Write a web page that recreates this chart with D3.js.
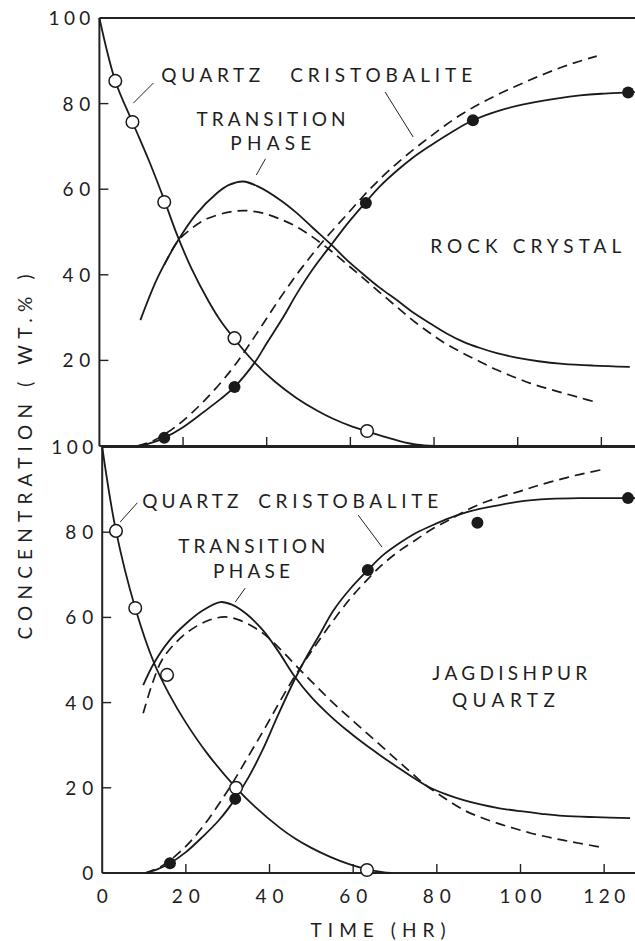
<!DOCTYPE html>
<html><head><meta charset="utf-8">
<script src="https://cdn.jsdelivr.net/npm/d3@7/dist/d3.min.js"></script>
<style>
body{margin:0;background:#fff}
text{font-family:Lato,"DejaVu Sans",sans-serif;font-weight:400;fill:#1e1e1e}
</style>
</head><body>
<svg id="chart" width="635" height="941"></svg>
<script>
// ---------- data ----------
const xTickValues = [0, 20, 40, 60, 80, 100, 120];
const yTickValuesTop = [20, 40, 60, 80, 100];
const yTickValuesBottom = [0, 20, 40, 60, 80, 100];

// Rock crystal (top panel)
const rcQuartzObs = [[3.8,85.3],[7.9,75.7],[15.5,57],[32.3,25.2],[64,3.5]];
const rcCristObs  = [[15.5,1.9],[32.3,13.8],[63.7,56.8],[89.3,76.1],[126.4,82.6]];
const rcQuartzCurve = [[0,100],[3.8,85.3],[7.9,75.7],[12,66.3],[15.5,57.5],[18.5,49.5],[22,41.5],[26,34],[29,29.2],[32.3,25],[36.8,19.8],[42,15],[47,11.3],[52,8.3],[56,6.3],[60,4.7],[64,3.4],[68,2.2],[72,1.1],[76,0.3],[80,0]];
const rcTransCurve = [[9.8,29.4],[14,39.5],[18.6,47.7],[23,54],[28,59],[31,61],[34.4,61.8],[38,60.6],[43.2,57.5],[47,54.6],[51,51],[55.8,46.7],[59,43.6],[63,40.2],[67,37],[71.1,34.1],[75,31.2],[79,28.7],[83,26.3],[86.9,24.4],[91,22.9],[95,21.7],[100,20.6],[105,19.8],[110.8,19.2],[118,18.8],[126.8,18.5]];
const rcTransModel = [[15.5,42.3],[18.6,47.7],[22,50.8],[26,53.2],[31.3,54.7],[35,55],[39.1,54.4],[43,53.1],[47.2,51.2],[51,48.8],[55.1,45.8],[59,42.6],[63,39.3],[67,35.9],[71.1,32.5],[75,29.3],[79,26.4],[82.8,23.9],[86.9,21.7],[91,19.7],[95,17.8],[98.9,16.2],[102.9,14.7],[106.8,13.5],[110.8,12.4],[114.8,11.3],[118.9,10.2]];
const rcCristCurve = [[9.1,0],[12,0.6],[15.5,1.9],[20,4.4],[25,8],[29,11],[32.3,13.8],[37.2,19.6],[40,24],[44,30.2],[47.2,35.6],[51,41.3],[55.8,47.5],[59.5,52.2],[63.7,57],[67,60.6],[71.1,64.3],[75,67.4],[79,70.1],[84,73.2],[89.3,76.1],[96,78.5],[102.9,80.1],[110,81.3],[114.9,81.9],[120,82.3],[126.4,82.6],[128,82.7]];
const rcCristModel = [[9.1,0],[13,1.3],[18.6,4.8],[25,10.5],[31.3,17.5],[35,22.5],[39.1,28.5],[43,34.3],[47.2,40.1],[51,44.9],[54.4,48.9],[59,53.9],[63,58.3],[67,62.3],[71.1,66],[75,69.2],[79,72.2],[82.8,75],[86.9,77.7],[91,80],[95,82],[99,83.8],[102.9,85.5],[106.8,87.1],[110.8,88.6],[114.8,89.9],[118.9,91.1]];

// Jagdishpur quartz (bottom panel)
const jqQuartzObs = [[3.3,80.3],[7.9,62.2],[15.5,46.5],[32,20],[63.3,0.7]];
const jqCristObs  = [[16.2,2.3],[31.8,17.4],[63.5,71.1],[89.7,82.2],[125.7,88]];
const jqQuartzCurve = [[0,100],[3.3,80.3],[7.9,62.2],[12.4,49.3],[16,42],[20,35.3],[25,28.2],[32,20],[36.5,15.6],[42.5,10.6],[46.1,8.1],[50,5.9],[54.5,3.8],[59,2.1],[63.3,0.9],[67,0.2],[69,0]];
const jqTransCurve = [[9.8,44.1],[12.4,49.3],[16,54.5],[20,58.5],[24,61.6],[28.2,63.6],[31,63],[34.5,60.8],[38.4,57],[42,52.2],[46.1,46],[50,41.3],[54.5,36.9],[58.5,33.5],[62.4,30.5],[66.5,27.6],[70.5,24.9],[74.5,22.3],[78.4,20],[82.4,18.4],[86.4,17.1],[90.4,16.1],[94.4,15.3],[100,14.5],[105,13.9],[110.2,13.4],[118,13.1],[126.2,12.9]];
const jqTransModel = [[9.8,37.5],[12,44.5],[14.3,50],[18,54.5],[22,57.6],[26,59.5],[29.4,60.1],[33,59.3],[38.4,56.3],[42.5,52.6],[46.6,48.4],[50.5,44.5],[54.5,40.6],[58.5,37],[62.4,33.6],[66.5,30],[70.5,26.5],[73.6,23.8],[76.7,21.1],[81.5,17.8],[86.4,14.8],[90.4,13.1],[94.4,11.7],[98.4,10.5],[102.3,9.4],[106.3,8.5],[110.2,7.7],[114.5,6.9],[119,6.1]];
const jqCristCurve = [[10.3,0],[13,0.8],[16.2,2.3],[20,4.9],[24,8.5],[28,12.5],[31.8,17.4],[35,22.5],[38.4,29],[42,37],[46.1,45.6],[49,51],[52,56],[55.2,61.5],[59.2,66.6],[63.5,71.1],[67,74.5],[71.2,77.5],[75,79.8],[79.1,81.7],[83,83.3],[87.2,84.7],[92,85.8],[99.2,87.1],[107,87.8],[115,88],[125.7,88],[128,88]];
const jqCristModel = [[10.3,0],[14,1.5],[19.1,5.4],[24,10.8],[30.1,19.5],[35,27.5],[39,34.2],[42.5,40.3],[46,46.1],[49.5,51.3],[54,57.6],[59.2,64.3],[63.5,69],[67.1,72.5],[71,75.6],[75.3,78.4],[79,80.8],[83.2,83],[87,85.1],[91.1,86.9],[95,88.2],[99.2,89.4],[103,90.6],[107.2,91.8],[113,93.3],[119.1,94.6]];

// ---------- layout ----------
const svg = d3.select("#chart");
const W = 635;
const panels = [
  {x0: 99.4, top: 18, bottom: 446, yTicks: yTickValuesTop, xLabels: false,
   quartzObs: rcQuartzObs, cristObs: rcCristObs,
   solid: [rcQuartzCurve, rcTransCurve, rcCristCurve], dashed: [rcTransModel, rcCristModel],
   labels: [
     {text:"QUARTZ", t:14.8, v:85.0, len:99},
     {text:"CRISTOBALITE", t:45.6, v:85.0, len:182},
     {text:"TRANSITION", t:23.2, v:74.8, len:149},
     {text:"PHASE", t:31.3, v:69.2, len:81},
     {text:"ROCK CRYSTAL", t:79.1, v:45.1, len:191}
   ],
   leaders: [[[8.1,80.1],[12.9,84.8]], [[68.3,82.7],[75,72.2]], [[37.5,63.3],[39.7,67.1]]]
  },
  {x0: 102.2, top: 447, bottom: 873, yTicks: yTickValuesBottom, xLabels: true,
   quartzObs: jqQuartzObs, cristObs: jqCristObs,
   solid: [jqQuartzCurve, jqTransCurve, jqCristCurve], dashed: [jqTransModel, jqCristModel],
   labels: [
     {text:"QUARTZ", t:9.6, v:85.7, len:96},
     {text:"CRISTOBALITE", t:37.3, v:85.7, len:180},
     {text:"TRANSITION", t:18.2, v:75.1, len:147},
     {text:"PHASE", t:26.5, v:69.2, len:77},
     {text:"JAGDISHPUR", t:78.9, v:45.3, len:155},
     {text:"QUARTZ", t:83.6, v:39.0, len:103}
   ],
   leaders: [[[4.3,82.4],[8.4,86.9]], [[61.2,84],[66.9,76.5]], [[31.8,63.6],[34.2,66.9]]]
  }
];
const pxPerHr = 4.183;

panels.forEach(p => {
  const x = d3.scaleLinear().domain([0, 120]).range([p.x0, p.x0 + 120 * pxPerHr]);
  const y = d3.scaleLinear().domain([0, 100]).range([p.bottom, p.top]);
  const g = svg.append("g");

  // frame
  g.append("line").attr("x1", x(0)).attr("x2", W + 5).attr("y1", y(100)).attr("y2", y(100))
    .attr("stroke", "#222").attr("stroke-width", 2);
  g.append("line").attr("x1", x(0)).attr("x2", W + 5).attr("y1", y(0)).attr("y2", y(0))
    .attr("stroke", "#222").attr("stroke-width", 2);
  g.append("line").attr("x1", x(0)).attr("x2", x(0)).attr("y1", y(100)).attr("y2", y(0))
    .attr("stroke", "#222").attr("stroke-width", 2);

  // x ticks (inward, from bottom axis)
  g.selectAll(".xt").data(xTickValues.filter(d => d > 0)).enter().append("line")
    .attr("x1", d => x(d)).attr("x2", d => x(d)).attr("y1", y(0)).attr("y2", y(0) - 9)
    .attr("stroke", "#222").attr("stroke-width", 1.4);
  // y ticks (inward)
  g.selectAll(".yt").data([20, 40, 60, 80]).enter().append("line")
    .attr("x1", x(0)).attr("x2", x(0) + 9).attr("y1", d => y(d)).attr("y2", d => y(d))
    .attr("stroke", "#222").attr("stroke-width", 1.4);

  // y tick labels
  g.selectAll(".yl").data(p.yTicks).enter().append("text")
    .attr("x", x(0) - 9).attr("y", d => y(d) + 7)
    .attr("text-anchor", "end").attr("font-size", 19)
    .attr("textLength", d => String(d).length * 14)
    .attr("lengthAdjust", "spacing")
    .text(d => d);

  if (p.xLabels) {
    g.selectAll(".xl").data(xTickValues).enter().append("text")
      .attr("x", d => x(d)).attr("y", y(0) + 30)
      .attr("text-anchor", "middle").attr("font-size", 19)
      .attr("textLength", d => String(d).length * 14)
      .attr("lengthAdjust", "spacing")
      .text(d => d);
  }

  const line = d3.line().x(d => x(d[0])).y(d => y(d[1])).curve(d3.curveCatmullRom.alpha(0.5));
  p.solid.forEach(c => g.append("path").attr("d", line(c)).attr("fill", "none")
    .attr("stroke", "#1a1a1a").attr("stroke-width", 1.8));
  p.dashed.forEach(c => g.append("path").attr("d", line(c)).attr("fill", "none")
    .attr("stroke", "#1a1a1a").attr("stroke-width", 1.7).attr("stroke-dasharray", "10,6"));

  // leaders
  p.leaders.forEach(l => g.append("line")
    .attr("x1", x(l[0][0])).attr("y1", y(l[0][1])).attr("x2", x(l[1][0])).attr("y2", y(l[1][1]))
    .attr("stroke", "#222").attr("stroke-width", 1));

  // markers
  g.selectAll(".qo").data(p.quartzObs).enter().append("circle")
    .attr("cx", d => x(d[0])).attr("cy", d => y(d[1])).attr("r", 6.3)
    .attr("fill", "#fff").attr("stroke", "#1a1a1a").attr("stroke-width", 1.5);
  g.selectAll(".co").data(p.cristObs).enter().append("circle")
    .attr("cx", d => x(d[0])).attr("cy", d => y(d[1])).attr("r", 6)
    .attr("fill", "#1a1a1a");

  // labels
  p.labels.forEach(l => g.append("text")
    .attr("x", x(l.t)).attr("y", y(l.v)).attr("font-size", 19)
    .attr("textLength", l.len).attr("lengthAdjust", "spacing")
    .text(l.text));
});

// axis titles
svg.append("text").attr("x", 378).attr("y", 937).attr("text-anchor", "middle")
  .attr("font-size", 19).attr("textLength", 135).attr("lengthAdjust", "spacing").text("TIME (HR)");
svg.append("text").attr("transform", "translate(32,457) rotate(-90)").attr("text-anchor", "middle")
  .attr("font-size", 19).attr("textLength", 365).attr("lengthAdjust", "spacing").text("CONCENTRATION ( WT.% )");
</script>
</body></html>
